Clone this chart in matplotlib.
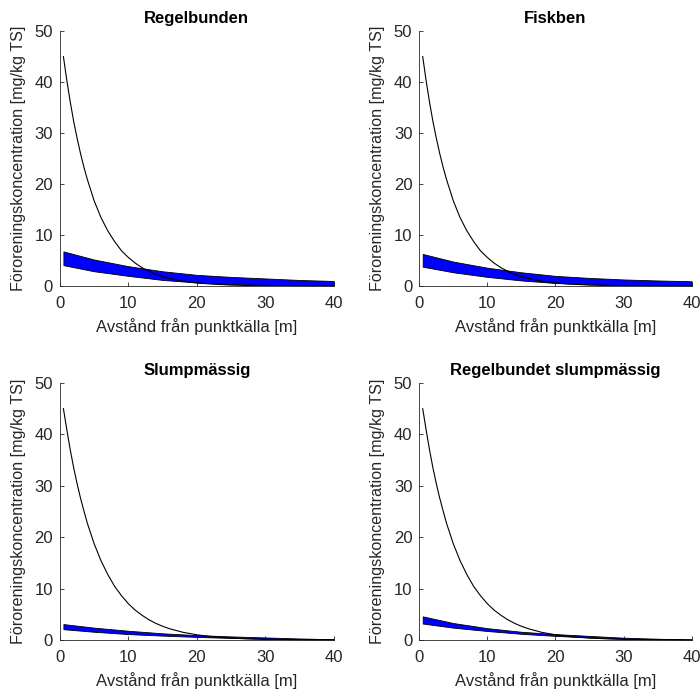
import matplotlib
matplotlib.use('Agg')
import matplotlib.pyplot as plt

plt.rcParams['font.family'] = ['Liberation Sans', 'DejaVu Sans']

# avstånd för kurvan (punktkälla)
curve_x = [0.5, 1, 1.5, 2, 2.5, 3, 3.5, 4, 5, 6, 7, 8, 9, 10, 11, 12, 13, 14, 15, 16,
           18, 20, 22, 25, 28, 30, 35, 40]
curve_top = [45, 40.3, 36.1, 32.3, 29.0, 26.0, 23.3, 20.9, 16.7, 13.4, 10.8, 8.7, 6.9, 5.6,
             4.5, 3.6, 2.9, 2.3, 1.85, 1.5, 0.96, 0.62, 0.4, 0.2, 0.1, 0.07, 0.02, 0.01]
curve_bottom = [45, 40.9, 37.0, 33.5, 30.4, 27.6, 25.1, 22.7, 18.7, 15.4, 12.7, 10.4, 8.6, 7.05,
                5.8, 4.8, 3.94, 3.24, 2.67, 2.2, 1.49, 1.01, 0.68, 0.38, 0.21, 0.14, 0.05, 0.02]

# intervall (band) per provtagningsmönster
band_x = [0.5, 5, 10, 15, 20, 25, 30, 35, 40]
titles = ['Regelbunden', 'Fiskben', 'Slumpmässig', 'Regelbundet slumpmässig']
band_upper = [
    [6.8, 5.2, 3.9, 2.9, 2.2, 1.8, 1.5, 1.2, 1.0],
    [6.3, 4.8, 3.6, 2.7, 2.0, 1.6, 1.3, 1.1, 0.95],
    [3.1, 2.4, 1.8, 1.3, 0.95, 0.7, 0.5, 0.3, 0.15],
    [4.6, 3.3, 2.3, 1.6, 1.15, 0.8, 0.45, 0.25, 0.1],
]
band_lower = [
    [4.1, 2.9, 2.0, 1.2, 0.7, 0.4, 0.25, 0.15, 0.1],
    [3.8, 2.7, 1.8, 1.1, 0.6, 0.35, 0.2, 0.12, 0.08],
    [2.1, 1.6, 1.15, 0.85, 0.6, 0.4, 0.22, 0.1, 0.04],
    [3.2, 2.4, 1.75, 1.2, 0.8, 0.5, 0.22, 0.1, 0.04],
]
curves = [curve_top, curve_top, curve_bottom, curve_bottom]

gray = (0.15, 0.15, 0.15)
fig = plt.figure(figsize=(7, 6.91), dpi=100)
positions = [
    [0.0857, 0.586, 0.391, 0.369],
    [0.599, 0.586, 0.389, 0.369],
    [0.0857, 0.0738, 0.391, 0.372],
    [0.599, 0.0738, 0.389, 0.372],
]

for i in range(4):
    ax = fig.add_axes(positions[i])
    ax.fill_between(band_x, band_lower[i], band_upper[i], facecolor='blue',
                    edgecolor='black', linewidth=0.6, zorder=2)
    ax.plot(curve_x, curves[i], color='black', linewidth=0.8, zorder=3)
    ax.set_xlim(0, 40)
    ax.set_ylim(0, 50)
    ax.set_xticks([0, 10, 20, 30, 40])
    ax.set_yticks([0, 10, 20, 30, 40, 50])
    for s in ['top', 'right']:
        ax.spines[s].set_visible(False)
    for s in ['left', 'bottom']:
        ax.spines[s].set_color(gray)
        ax.spines[s].set_linewidth(0.6)
    ax.tick_params(direction='in', length=3, width=0.6, colors=gray, labelsize=12)
    ax.tick_params(axis='x', pad=7)
    ax.tick_params(axis='y', pad=5)
    ax.set_title(titles[i], fontsize=12, fontweight='bold', pad=6)
    ax.set_xlabel('Avstånd från punktkälla [m]', fontsize=12, color=gray, labelpad=5)
    ax.set_ylabel('Föroreningskoncentration [mg/kg TS]', fontsize=11.6, color=gray, labelpad=6)

fig.savefig('out.png', dpi=100)
